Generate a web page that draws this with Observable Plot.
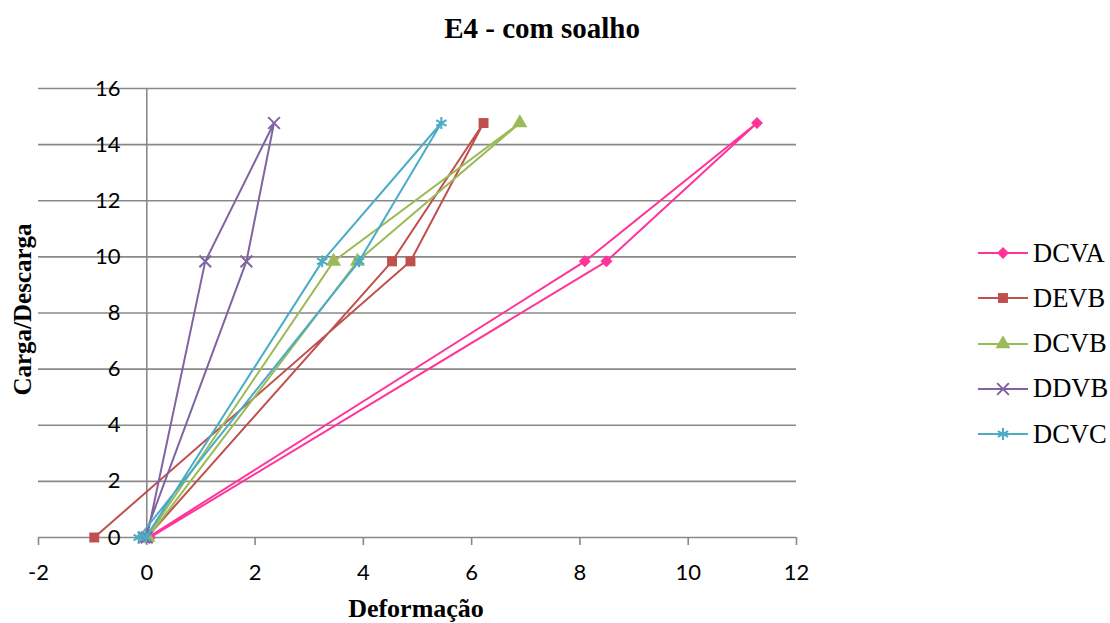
<!DOCTYPE html>
<html>
<head>
<meta charset="utf-8">
<script src="https://cdn.jsdelivr.net/npm/d3@7"></script>
<script src="https://cdn.jsdelivr.net/npm/@observablehq/plot@0.6"></script>
<style>
  html, body { margin: 0; padding: 0; background: #fff; }
  #wrap { position: relative; width: 1110px; height: 623px; overflow: hidden; background: #fff; }
  #chart { position: absolute; left: 0; top: 0; }
  .serif { font-family: "Liberation Serif", "Times New Roman", serif; color: #000; position: absolute; white-space: nowrap; }
  #title { left: 292px; width: 500px; top: 14px; font-size: 29px; line-height: 29px; font-weight: bold; text-align: center; }
  #xlabel { left: 266px; width: 300px; top: 596px; font-size: 26px; line-height: 25px; font-weight: bold; text-align: center; }
  #ylabel { left: -128px; width: 300px; top: 297px; height: 25px; font-size: 25px; line-height: 25px; font-weight: bold; text-align: center; transform: rotate(-90deg); }
  .leg { position: absolute; left: 978px; height: 30px; display: flex; align-items: center; }
  .leg span { font-family: "Liberation Serif", "Times New Roman", serif; font-size: 26.5px; margin-left: 5px; color: #000; }
</style>
</head>
<body>
<div id="wrap">
  <div id="chart"></div>
  <div id="title" class="serif">E4 - com soalho</div>
  <div id="xlabel" class="serif">Deformação</div>
  <div id="ylabel" class="serif">Carga/Descarga</div>
</div>
<script>
// ---- data ----
const seriesNames = ["DCVA", "DEVB", "DCVB", "DDVB", "DCVC"];
const seriesColors = ["#FF3399", "#C0504D", "#9BBB59", "#8064A2", "#4BACC6"];
const seriesSymbols = ["diamond2", "square", "triangle", "times", "asterisk"];
const load = [0, 9.84, 14.77, 9.84, 0];
const DCVA = [0.02, 8.09, 11.27, 8.49, 0.06];
const DEVB = [0, 4.53, 6.22, 4.87, -0.97];
const DCVB = [0, 3.45, 6.89, 3.89, 0.02];
const DDVB = [0, 1.08, 2.35, 1.84, -0.05];
const DCVC = [-0.02, 3.24, 5.44, 3.92, -0.15];
const xTicks = [-2, 0, 2, 4, 6, 8, 10, 12];
const yTicks = [0, 2, 4, 6, 8, 10, 12, 14, 16];

const deform = {DCVA, DEVB, DCVB, DDVB, DCVC};
const rows = [];
seriesNames.forEach(name => {
  deform[name].forEach((d, i) => rows.push({series: name, x: d, y: load[i], i}));
});

const grid = "#898989";
const symbolR = {diamond2: 5.4, square: 5.6, triangle: 5.6, times: 5.4, asterisk: 5.6};
const filled = {diamond2: true, square: true, triangle: true, times: false, asterisk: false};

const marks = [
  Plot.ruleY(yTicks, {stroke: grid, strokeWidth: 1.6}),
  Plot.ruleX([0], {y1: 0, y2: 16, stroke: grid, strokeWidth: 1.6}),
  Plot.axisX({ticks: xTicks, tickSize: 8, tickPadding: 19, tickFormat: d => String(d), stroke: grid, strokeWidth: 1.6, strokeOpacity: 1, label: null}),
  Plot.axisY({ticks: yTicks, tickSize: 0, tickPadding: 0, dx: 82, tickFormat: d => String(d), label: null})
];

seriesNames.forEach((name, k) => {
  const data = rows.filter(r => r.series === name);
  const sym = seriesSymbols[k];
  marks.push(Plot.line(data, {x: "x", y: "y", stroke: seriesColors[k], strokeWidth: 2, curve: "linear"}));
  const opts = {x: "x", y: "y", symbol: () => sym, r: symbolR[sym]};
  if (filled[sym]) { opts.fill = seriesColors[k]; opts.stroke = "none"; }
  else { opts.stroke = seriesColors[k]; opts.strokeWidth = 2; opts.fill = "none"; }
  marks.push(Plot.dot(data, opts));
});

const chart = Plot.plot({
  width: 1110,
  height: 623,
  marginLeft: 38,
  marginRight: 314,
  marginTop: 88,
  marginBottom: 86,
  x: {domain: [-2, 12]},
  y: {domain: [0, 16]},
  symbol: {domain: seriesSymbols, range: seriesSymbols},
  style: {fontFamily: "Lato, 'Open Sans', sans-serif", fontSize: "22px", color: "#000", background: "#fff"},
  marks
});
document.getElementById("chart").appendChild(chart);

// ---- legend ----
const wrap = document.getElementById("wrap");
const legTop = 253, legStep = 45.3;
seriesNames.forEach((name, k) => {
  const sym = seriesSymbols[k];
  const div = document.createElement("div");
  div.className = "leg";
  div.style.top = (legTop + k * legStep - 15) + "px";
  const svg = d3.create("svg").attr("width", 50).attr("height", 16);
  svg.append("line").attr("x1", 0).attr("x2", 50).attr("y1", 8).attr("y2", 8)
    .attr("stroke", seriesColors[k]).attr("stroke-width", 2);
  const symType = {diamond2: d3.symbolDiamond2, square: d3.symbolSquare, triangle: d3.symbolTriangle, times: d3.symbolTimes, asterisk: d3.symbolAsterisk}[sym];
  const r = symbolR[sym];
  const p = svg.append("path").attr("transform", "translate(25,8)")
    .attr("d", d3.symbol(symType, Math.PI * r * r)());
  if (filled[sym]) p.attr("fill", seriesColors[k]);
  else p.attr("fill", "none").attr("stroke", seriesColors[k]).attr("stroke-width", 2);
  div.appendChild(svg.node());
  const span = document.createElement("span");
  span.textContent = name;
  div.appendChild(span);
  wrap.appendChild(div);
});
</script>
</body>
</html>
